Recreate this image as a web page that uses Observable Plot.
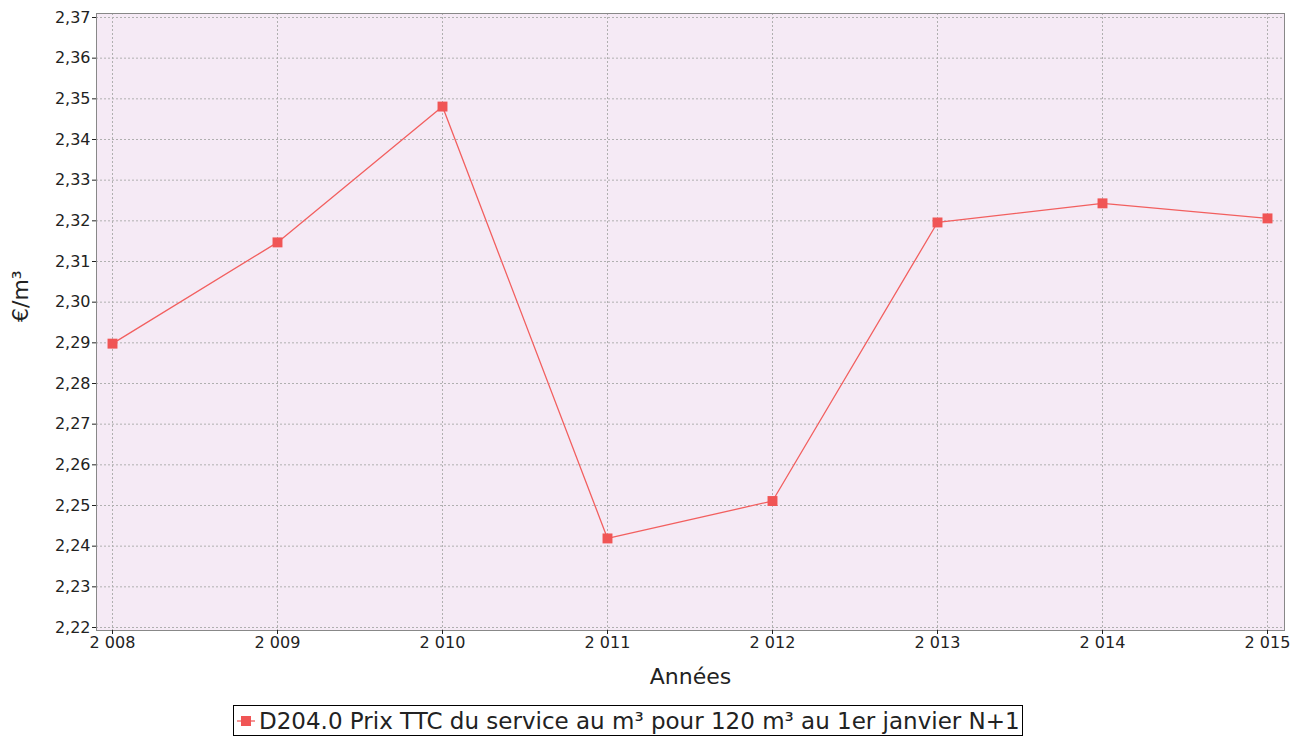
<!DOCTYPE html>
<html><head><meta charset="utf-8">
<script src="https://cdn.jsdelivr.net/npm/d3@7"></script>
<script src="https://cdn.jsdelivr.net/npm/@observablehq/plot@0.6"></script>
<style>
body{margin:0;background:#fff;font-family:"DejaVu Sans",sans-serif;}
#legend{position:absolute;left:233px;top:705px;width:790px;height:31px;border:1px solid #000;box-sizing:border-box;display:flex;align-items:center;padding:0 0 0 3px;font-size:23px;color:#222;white-space:nowrap;}
#legend svg{margin-right:4px}
</style></head><body>
<div id="chart"></div>
<div id="legend"><svg width="18" height="14"><line x1="0" y1="7" x2="18" y2="7" stroke="#f25f5f" stroke-width="1.3"/><rect x="4" y="2" width="10" height="10" fill="#f05555"/></svg><span>D204.0 Prix TTC du service au m³ pour 120 m³ au 1er janvier N+1</span></div>
<script>
const years = [2008, 2009, 2010, 2011, 2012, 2013, 2014, 2015];
const prices = [2.2898, 2.3147, 2.3481, 2.2419, 2.2511, 2.3196, 2.3243, 2.3206];
const yTicks = d3.range(2.22, 2.3701, 0.01).map(v => +v.toFixed(2));
const seriesName = "D204.0 Prix TTC du service au m³ pour 120 m³ au 1er janvier N+1";
const data = years.map((y, i) => ({year: y, price: prices[i]}));
const fmtY = d => d.toFixed(2).replace(".", ",");
const fmtX = d => String(d).replace(/^(\d)(\d{3})$/, "$1 $2");

const chart = Plot.plot({
  width: 1295, height: 690,
  marginLeft: 96, marginRight: 11, marginTop: 13, marginBottom: 60,
  insetLeft: 16, insetRight: 17, insetTop: 4, insetBottom: 3,
  style: {fontFamily: "DejaVu Sans, sans-serif", fontSize: "16px", color: "#222", background: "#fff"},
  x: {domain: [2008, 2015], ticks: years, tickFormat: fmtX, label: null, tickSize: 4},
  y: {domain: [2.22, 2.37], ticks: yTicks, tickFormat: fmtY, label: null, tickSize: 4},
  marks: [
    Plot.frame({fill: "#f5eaf5", stroke: null}),
    Plot.ruleY(yTicks, {stroke: "#b0b0b0", strokeDasharray: "2,2", strokeWidth: 1}),
    Plot.ruleX(years, {stroke: "#b0b0b0", strokeDasharray: "2,2", strokeWidth: 1}),
    Plot.frame({stroke: "#888", strokeWidth: 1}),
    Plot.axisX({ticks: years, tickFormat: fmtX, tickSize: 4, tickPadding: 2, label: null, fontSize: 16}),
    Plot.axisY({ticks: yTicks, tickFormat: fmtY, tickSize: 4, tickPadding: 2, label: null, fontSize: 16}),
    Plot.line(data, {x: "year", y: "price", stroke: "#f25f5f", strokeWidth: 1.3}),
    Plot.dot(data, {x: "year", y: "price", symbol: "square", r: 5.6, fill: "#f05555", stroke: null, title: d => seriesName}),
    Plot.text(["Années"], {frameAnchor: "bottom", dy: 53, fontSize: 22, fill: "#222"}),
    Plot.text(["€/m³"], {frameAnchor: "left", dx: -76, rotate: -90, fontSize: 22, fill: "#222"})
  ]
});
document.getElementById("chart").appendChild(chart);
</script>
</body></html>
